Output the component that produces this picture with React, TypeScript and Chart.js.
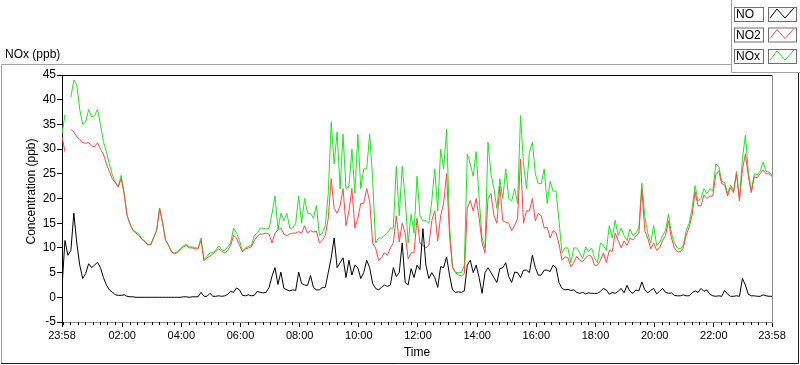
import { useEffect, useRef } from "react";
import { Chart, registerables } from "chart.js";

Chart.register(...registerables);

// one sample every 6 minutes, starting at 23:58
const SAMPLE_STEP_MIN = 6;

const NO: (number | null)[] = [
  2.0, 11.5, 8.5, 9.5, 17.0, 11.0, 6.5, 3.8, 4.8, 6.8,
  6.0, 6.5, 7.1, 6.0, 4.0, 2.5, 1.5, 1.1, 0.5, 0.4,
  0.4, 0.5, 0.2, 0.1, 0.1, 0.0, 0.0, 0.0, 0.0, 0.0,
  0.0, 0.0, 0.0, 0.0, 0.0, 0.0, 0.0, 0.0, 0.0, 0.0,
  0.0, 0.1, 0.1, 0.0, 0.1, 0.1, 0.1, 1.0, 0.2, 0.2,
  0.8, 0.2, 0.2, 0.3, 0.2, 0.3, 0.6, 1.2, 1.0, 1.9,
  1.5, 0.4, 0.3, 0.5, 0.3, 0.4, 1.2, 1.0, 0.9, 1.0,
  2.0, 4.3, 6.0, 2.6, 5.1, 1.8, 1.5, 1.3, 1.5, 1.4,
  5.1, 2.8, 2.5, 2.4, 4.4, 2.0, 1.5, 1.5, 2.0, 2.0,
  5.0, 8.0, 12.0, 6.0, 7.0, 8.0, 4.0, 7.5, 4.5, 6.5,
  6.0, 3.8, 5.0, 7.5, 6.0, 2.8, 1.8, 1.5, 2.0, 2.5,
  2.2, 2.5, 6.0, 4.2, 5.0, 11.0, 3.0, 2.5, 5.8, 4.0,
  6.5, 5.6, 13.9, 6.5, 3.8, 5.0, 4.0, 2.0, 6.2, 6.0,
  8.2, 4.5, 1.5, 1.0, 1.1, 1.0, 1.3, 6.5, 7.5, 5.0,
  6.5, 4.0, 0.8, 5.0, 6.0, 5.0, 4.0, 3.0, 5.8, 6.0,
  7.0, 4.2, 3.0, 5.1, 5.0, 4.0, 5.5, 5.5, 5.0, 8.5,
  6.0, 4.5, 4.5, 5.5, 5.5, 5.2, 6.5, 6.0, 3.0, 1.8,
  1.5, 1.6, 1.4, 1.5, 1.0, 0.8, 1.0, 0.7, 0.9, 0.8,
  0.8, 0.8, 1.2, 1.8, 1.5, 0.6, 1.0, 0.8, 1.2, 1.8,
  0.9, 2.4, 1.2, 0.8, 1.5, 1.3, 3.1, 1.5, 0.9, 1.4,
  1.8, 0.7, 1.2, 1.8, 1.0, 0.8, 0.9, 0.4, 0.3, 0.3,
  0.5, 0.3, 0.3, 0.9, 1.3, 1.0, 1.8, 1.2, 1.5, 0.6,
  0.3, 0.2, 0.3, 0.2, 1.4, 0.6, 0.2, 0.2, 0.3, 0.2,
  3.8, 2.5, 0.6, 0.3, 0.3, 0.2, 0.2, 0.5, 0.3, 0.2,
  0.2,
];

const NO2: (number | null)[] = [
  32.5, 29.5, null, 34.0, 33.5, 32.5, 32.0, 31.3, 31.2, 31.3,
  30.6, 30.5, 31.3, 30.0, 29.0, 27.0, 25.5, 24.0, 23.2, 22.3,
  24.0, 21.0, 16.5, 14.8, 13.5, 13.0, 12.5, 11.7, 11.3, 10.6,
  10.6, 12.0, 13.5, 18.0, 15.0, 11.5, 10.5, 9.2, 8.8, 9.0,
  9.6, 10.2, 10.5, 10.0, 10.0, 9.8, 9.8, 11.5, 7.4, 8.0,
  8.3, 8.8, 9.3, 9.8, 9.3, 9.0, 9.5, 10.5, 12.5, 12.0,
  10.5, 9.2, 9.8, 10.0, 10.2, 11.5, 12.3, 12.8, 12.8, 13.0,
  12.8, 11.0, 13.0, 13.6, 14.0, 12.8, 12.5, 12.8, 13.0, 13.0,
  13.3, 13.0, 14.5, 13.0, 13.5, 13.2, 13.4, 11.0, 11.5, 12.5,
  16.0, 24.0, 18.0, 17.0, 18.5, 22.0, 14.5, 17.5, 22.0, 14.0,
  16.0, 19.0, 19.0, 22.0, 19.5, 11.0, 10.0, 7.5, 8.0, 9.0,
  8.5, 10.0, 11.0, 16.5, 11.2, 15.0, 13.0, 7.8, 9.0, 9.0,
  16.0, 11.0, 10.5, 10.0, 10.5, 15.5, 17.5, 11.4, 16.5, 19.0,
  25.0, 12.5, 6.0, 5.0, 4.5, 4.3, 4.8, 18.0, 19.6, 17.5,
  20.0, 16.0, 11.0, 9.0, 20.0, 21.0, 16.6, 15.0, 22.5, 15.5,
  15.2, 15.0, 13.5, 14.5, 16.0, 28.0, 15.0, 17.5, 17.5, 20.0,
  15.5, 17.0, 16.5, 14.0, 14.2, 12.0, 13.5, 13.0, 10.8, 7.5,
  8.2, 8.0, 6.2, 7.0, 8.3, 7.5, 7.2, 8.0, 8.5, 8.3,
  6.5, 6.5, 7.5, 9.0, 7.0, 9.5, 9.3, 13.0, 11.5, 10.0,
  11.4, 10.5, 12.0, 11.6, 12.4, 13.0, 22.0, 13.5, 12.0, 9.8,
  11.0, 9.5, 10.0, 11.5, 12.5, 15.5, 12.0, 10.0, 9.2, 9.2,
  10.0, 12.6, 14.2, 16.6, 21.3, 18.5, 18.5, 20.7, 20.0, 20.5,
  20.5, 24.8, 25.6, 23.0, 22.8, 20.5, 22.2, 21.2, 25.0, 19.5,
  25.8, 29.0, 24.5, 21.2, 24.4, 24.2, 25.0, 25.8, 25.0, 25.0,
  24.5,
];

const NOX: (number | null)[] = [
  33.0, 37.0, null, 40.5, 44.0, 43.0, 38.0, 35.0, 35.5, 38.0,
  36.5, 36.8, 38.0, 35.0, 31.5, 29.5, 27.0, 24.8, 23.3, 22.4,
  24.7, 21.2, 16.6, 14.9, 13.6, 13.2, 12.9, 11.8, 11.4, 10.7,
  10.7, 12.2, 13.6, 18.1, 15.2, 11.6, 10.6, 9.3, 9.0, 9.2,
  9.8, 10.4, 10.7, 10.2, 10.2, 10.0, 10.0, 12.0, 7.6, 8.3,
  9.0, 9.0, 9.6, 10.4, 9.6, 9.4, 10.2, 11.0, 14.0, 13.0,
  11.5, 9.3, 10.0, 10.3, 10.5, 12.5, 13.0, 14.0, 14.0, 13.8,
  14.0, 17.0, 20.5, 13.7, 17.0, 15.5, 17.0, 14.0, 14.0, 15.0,
  20.5, 15.0, 20.0, 17.0, 17.0, 16.0, 18.6, 12.5, 13.0, 14.5,
  21.0, 35.5, 27.0, 33.5, 22.0, 33.0, 22.0, 22.5, 30.0, 21.0,
  33.0, 22.0, 26.0, 26.0, 33.0, 24.0, 11.0, 12.0, 12.0, 12.5,
  13.0, 14.0, 14.0, 26.5, 16.5, 26.5, 20.0, 11.0, 16.8, 13.0,
  24.5, 16.5, 15.5, 15.5, 15.0, 19.5, 26.0, 17.5, 30.0, 26.0,
  34.0, 14.5, 6.2, 5.0, 5.0, 5.0, 6.5, 29.0, 27.0, 24.5,
  29.5, 20.0, 12.0, 10.0, 31.4, 25.0, 22.0, 18.0, 24.0, 20.0,
  26.0, 20.0, 19.5, 22.0, 19.0, 36.8, 27.0, 22.0, 29.3, 31.4,
  25.0, 23.0, 23.0, 26.0, 19.0, 23.5, 21.5, 21.5, 15.5, 9.0,
  10.0, 10.0, 7.0, 10.0, 10.0, 9.0, 7.8, 10.2, 9.2, 10.0,
  8.0, 7.0, 11.0, 10.5, 9.5, 14.5, 12.0, 15.6, 12.5, 14.0,
  12.5, 11.5, 13.8, 12.5, 13.0, 14.0, 23.1, 16.3, 13.0, 11.0,
  14.5, 10.5, 11.0, 12.5, 13.5, 16.8, 13.0, 11.0, 10.0, 9.8,
  10.5, 13.5, 15.0, 18.0, 22.6, 19.5, 20.0, 22.0, 21.0, 22.0,
  21.5, 27.0, 26.5, 23.5, 23.2, 21.0, 22.7, 21.5, 25.5, 20.0,
  28.0, 32.8, 25.5, 21.5, 25.0, 24.8, 25.5, 27.4, 25.5, 25.3,
  24.8,
];

const SERIES_LABELS = ["NO", "NO2", "NOx"];
const SERIES_COLORS = ["#000000", "#ff4646", "#1ee61e"];

const TICK_MINUTES = [0, 122, 242, 362, 482, 602, 722, 842, 962, 1082, 1202, 1322, 1440];
const TICK_LABELS = ["23:58", "02:00", "04:00", "06:00", "08:00", "10:00", "12:00", "14:00", "16:00", "18:00", "20:00", "22:00", "23:58"];
const MINOR_TICK_START = 2;
const MINOR_TICK_STEP = 15;

const Y_MIN = -5;
const Y_MAX = 45;
const Y_STEP = 5;

const CHART_TITLE = "NOx (ppb)";
const X_TITLE = "Time";
const Y_TITLE = "Concentration (ppb)";

const FONT = "'Liberation Sans', Arial, sans-serif";

function toPoints(values: (number | null)[]) {
  return values.map((v, i) => ({ x: i * SAMPLE_STEP_MIN, y: v }));
}

const framePlugin = {
  id: "labviewFrame",
  beforeDraw(chart: any) {
    const { ctx, width, height } = chart;
    ctx.save();
    ctx.fillStyle = "#ffffff";
    ctx.fillRect(0, 0, width, height);
    ctx.restore();
  },
  afterDraw(chart: any) {
    const { ctx, chartArea } = chart;
    const xs = chart.scales.x;
    const ys = chart.scales.y;
    ctx.save();

    // outer frame
    ctx.lineWidth = 1;
    ctx.strokeStyle = "#a0a0a0";
    ctx.beginPath();
    ctx.moveTo(1.5, 363);
    ctx.lineTo(1.5, 64.5);
    ctx.lineTo(731, 64.5);
    ctx.stroke();
    ctx.strokeStyle = "#1e1e1e";
    ctx.beginPath();
    ctx.moveTo(1, 363.5);
    ctx.lineTo(798.5, 363.5);
    ctx.lineTo(798.5, 72);
    ctx.stroke();

    // legend container edges
    ctx.strokeStyle = "#a0a0a0";
    ctx.beginPath();
    ctx.moveTo(731.5, 0);
    ctx.lineTo(731.5, 72.5);
    ctx.lineTo(800, 72.5);
    ctx.stroke();

    // plot border top / right
    ctx.strokeStyle = "#000000";
    ctx.beginPath();
    ctx.moveTo(chartArea.left, Math.round(chartArea.top) + 0.5);
    ctx.lineTo(chartArea.right, Math.round(chartArea.top) + 0.5);
    ctx.stroke();
    ctx.strokeStyle = "#8c8c8c";
    ctx.beginPath();
    ctx.moveTo(Math.round(chartArea.right) + 0.5, chartArea.top);
    ctx.lineTo(Math.round(chartArea.right) + 0.5, chartArea.bottom);
    ctx.stroke();

    // minor ticks on time axis
    ctx.strokeStyle = "#000000";
    ctx.beginPath();
    for (let m = MINOR_TICK_START; m < 1440; m += MINOR_TICK_STEP) {
      if (TICK_MINUTES.includes(m)) continue;
      const px = Math.round(xs.getPixelForValue(m)) + 0.5;
      ctx.moveTo(px, xs.top);
      ctx.lineTo(px, xs.top + 3);
    }
    ctx.stroke();

    // titles
    ctx.fillStyle = "#000000";
    ctx.font = `12px ${FONT}`;
    ctx.textAlign = "left";
    ctx.textBaseline = "middle";
    ctx.fillText(CHART_TITLE, 5, 55);

    ctx.textAlign = "center";
    ctx.fillText(X_TITLE, (chartArea.left + chartArea.right) / 2, 353);

    ctx.save();
    ctx.translate(32, (ys.top + ys.bottom) / 2 - 7);
    ctx.rotate(-Math.PI / 2);
    ctx.fillText(Y_TITLE, 0, 0);
    ctx.restore();

    // legend
    const rows = [7.5, 28, 49.5];
    chart.data.datasets.forEach((ds: any, i: number) => {
      const y = rows[i];
      ctx.lineWidth = 1;
      ctx.strokeStyle = "#6e6e6e";
      ctx.fillStyle = "#ffffff";
      ctx.fillRect(734.5, y, 29, 14);
      ctx.strokeRect(734.5, y, 29, 14);
      ctx.fillRect(768.5, y, 28, 14);
      ctx.strokeRect(768.5, y, 28, 14);
      ctx.fillStyle = "#000000";
      ctx.font = `12px ${FONT}`;
      ctx.textAlign = "left";
      ctx.textBaseline = "middle";
      ctx.fillText(ds.label, 736, y + 7.5);
      ctx.strokeStyle = ds.borderColor;
      ctx.beginPath();
      ctx.moveTo(770, y + 10.5);
      ctx.lineTo(777, y + 1.5);
      ctx.lineTo(785, y + 10.5);
      ctx.lineTo(794, y + 0.5);
      ctx.stroke();
    });

    ctx.restore();
  },
};

export default function App() {
  const canvasRef = useRef<HTMLCanvasElement | null>(null);

  useEffect(() => {
    document.body.style.margin = "0";
    const canvas = canvasRef.current;
    if (!canvas) return;
    const seriesValues = [NO, NO2, NOX];
    const chart = new Chart(canvas, {
      type: "line",
      data: {
        datasets: seriesValues.map((vals, i) => ({
          label: SERIES_LABELS[i],
          data: toPoints(vals),
          borderColor: SERIES_COLORS[i],
          backgroundColor: SERIES_COLORS[i],
          borderWidth: 1,
          pointRadius: 0,
          tension: 0,
          spanGaps: false,
        })),
      },
      options: {
        animation: false,
        responsive: false,
        maintainAspectRatio: false,
        parsing: false as any,
        normalized: true,
        layout: { padding: { left: 0, right: 28, top: 75, bottom: 0 } },
        plugins: {
          legend: { display: false },
          tooltip: { enabled: false },
          title: { display: false },
        },
        scales: {
          x: {
            type: "linear",
            min: 0,
            max: 1440,
            afterBuildTicks: (scale: any) => {
              scale.ticks = TICK_MINUTES.map((v) => ({ value: v }));
            },
            afterFit: (scale: any) => {
              scale.height = 43;
            },
            ticks: {
              autoSkip: false,
              maxRotation: 0,
              minRotation: 0,
              color: "#000000",
              padding: 2,
              font: { family: FONT, size: 11 },
              callback: (v: any) => {
                const idx = TICK_MINUTES.indexOf(Number(v));
                return idx >= 0 ? TICK_LABELS[idx] : "";
              },
            },
            grid: { drawOnChartArea: false, drawTicks: true, tickLength: 5, color: "#000000" },
            border: { display: true, color: "#8c8c8c" },
          },
          y: {
            min: Y_MIN,
            max: Y_MAX,
            afterFit: (scale: any) => {
              scale.width = 62;
            },
            ticks: {
              stepSize: Y_STEP,
              color: "#000000",
              padding: 1,
              font: { family: FONT, size: 12 },
            },
            grid: { drawOnChartArea: false, drawTicks: true, tickLength: 5, color: "#000000" },
            border: { display: true, color: "#000000" },
          },
        },
      },
      plugins: [framePlugin],
    });
    return () => chart.destroy();
  }, []);

  return (
    <div style={{ width: 800, height: 365 }}>
      <canvas ref={canvasRef} width={800} height={365} style={{ display: "block", width: 800, height: 365 }} />
    </div>
  );
}
